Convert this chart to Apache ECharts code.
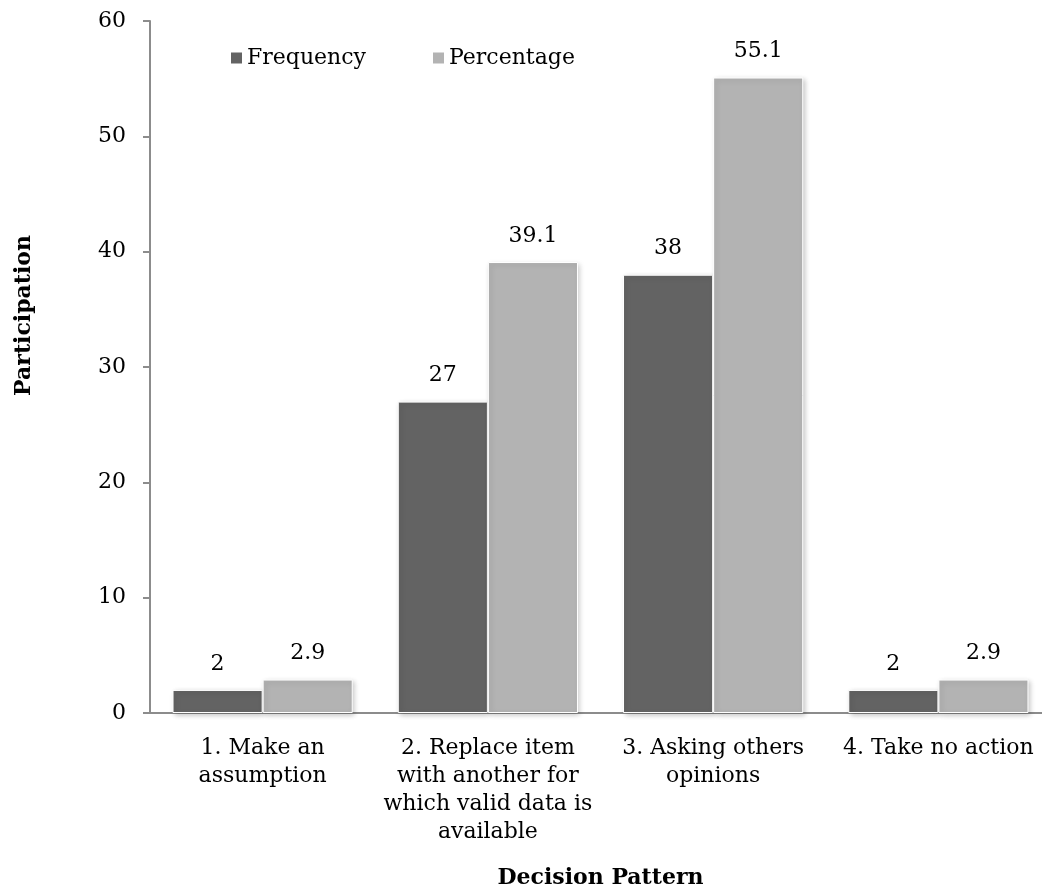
<!DOCTYPE html>
<html>
<head>
<meta charset="utf-8">
<script src="https://cdn.jsdelivr.net/npm/echarts@6/dist/echarts.min.js"></script>
<style>
  html, body { margin: 0; padding: 0; background: #fff; }
  #chart { width: 1042px; height: 894px; }
</style>
</head>
<body>
<div id="chart"></div>
<script>
// Decision patterns reported by participants
const categories = [
  '1. Make an\nassumption',
  '2. Replace item\nwith another for\nwhich valid data is\navailable',
  '3. Asking others\nopinions',
  '4. Take no action'
];
const frequency = [2, 27, 38, 2];
const percentage = [2.9, 39.1, 55.1, 2.9];
const yTicks = { min: 0, max: 60, interval: 10 };

const FONT = 'DejaVu Serif';
const FS = 22;
const axisGray = '#8c8c8c';

const chart = echarts.init(document.getElementById('chart'), null, { renderer: 'canvas' });

const barStyle = (color) => ({
  color: color,
  borderColor: '#ffffff',
  borderWidth: 1,
  shadowBlur: 5,
  shadowColor: 'rgba(0,0,0,0.22)',
  shadowOffsetX: 2,
  shadowOffsetY: 2
});

const valueLabel = {
  show: true,
  position: 'top',
  distance: 15,
  fontFamily: FONT,
  fontSize: FS,
  color: '#000'
};

chart.setOption({
  animation: false,
  backgroundColor: '#ffffff',
  textStyle: { fontFamily: FONT },
  // the plot runs slightly past the right edge of the canvas
  grid: { left: 150, width: 901, top: 21, height: 692, containLabel: false, outerBoundsMode: 'none' },
  legend: {
    left: 224,
    top: 42,
    itemWidth: 13,
    itemHeight: 13,
    itemGap: 65,
    icon: 'rect',
    textStyle: { fontFamily: FONT, fontSize: FS, color: '#000', padding: [0, 0, 0, -1] },
    data: ['Frequency', 'Percentage']
  },
  xAxis: {
    type: 'category',
    data: categories,
    axisLine: { lineStyle: { color: axisGray, width: 2 } },
    axisTick: { show: false },
    axisLabel: {
      interval: 0,
      margin: 21,
      fontFamily: FONT,
      fontSize: FS,
      lineHeight: 28,
      color: '#000',
      align: 'center'
    },
    name: 'Decision Pattern',
    nameLocation: 'middle',
    nameGap: 154,
    nameTextStyle: { fontFamily: FONT, fontSize: FS, fontWeight: 'bold', color: '#000', verticalAlign: 'top' }
  },
  yAxis: {
    type: 'value',
    min: yTicks.min,
    max: yTicks.max,
    interval: yTicks.interval,
    axisLine: { show: true, lineStyle: { color: axisGray, width: 2 } },
    axisTick: { show: true, length: 7, lineStyle: { color: axisGray, width: 2 } },
    splitLine: { show: false },
    axisLabel: { margin: 24, fontFamily: FONT, fontSize: FS, color: '#000' }
  },
  graphic: [{
    type: 'text',
    left: 13,
    top: 235,
    rotation: Math.PI / 2,
    style: {
      text: 'Participation',
      font: 'bold 22px "DejaVu Serif"',
      fill: '#000'
    }
  }],
  series: [
    {
      name: 'Frequency',
      type: 'bar',
      data: frequency,
      barGap: '0%',
      barCategoryGap: '20%',
      itemStyle: barStyle('#636363'),
      label: valueLabel
    },
    {
      name: 'Percentage',
      type: 'bar',
      data: percentage,
      barGap: '0%',
      barCategoryGap: '20%',
      itemStyle: barStyle('#b3b3b3'),
      label: valueLabel
    }
  ]
});
</script>
</body>
</html>
